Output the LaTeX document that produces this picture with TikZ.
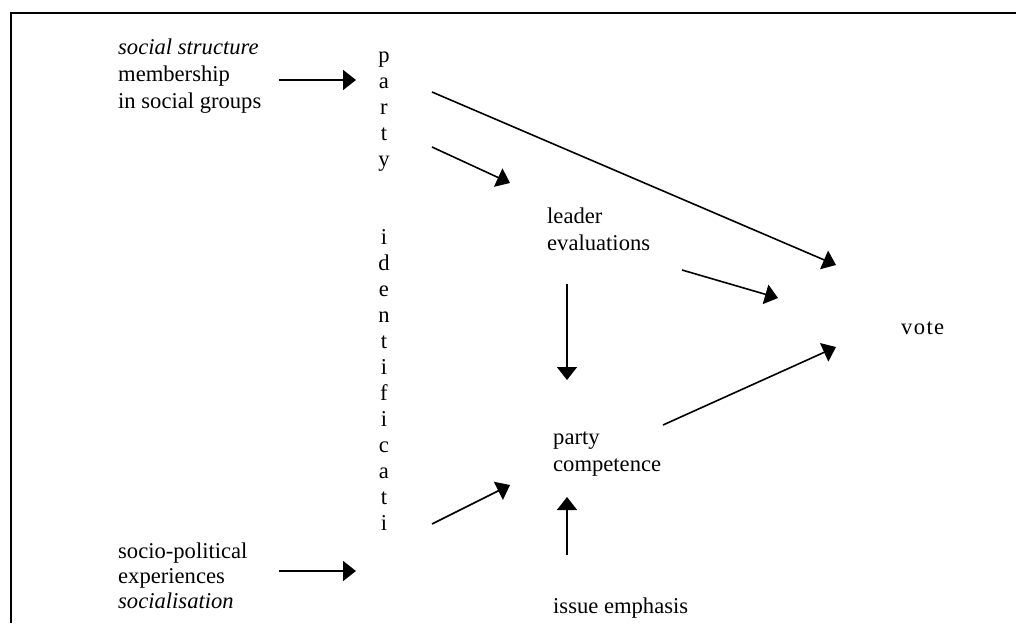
\documentclass[tikz,border=0pt]{standalone}
\usepackage{fontspec}
\setmainfont{Liberation Serif}
\usetikzlibrary{arrows.meta}
\tikzset{
  lbl/.style={inner sep=0pt, anchor=west, align=left, font=\fontsize{22.6}{27}\selectfont},
  lblb/.style={lbl, font=\fontsize{22.6}{25}\selectfont},
  vert/.style={inner sep=0pt, align=center, font=\fontsize{22.6}{26}\selectfont},
  arr/.style={line width=1.6pt, -{Triangle[length=13pt,width=20pt]}},
  frame/.style={line width=2pt}
}
\begin{document}
\begin{tikzpicture}[x=1pt,y=-1pt]
\useasboundingbox (0,0) rectangle (1016,623);
\draw[frame] (10.5,623) -- (10.5,13) -- (1016,13);

\node[lbl] (soc) at (118,76) {\textit{social structure}\\membership\\in social groups};
\node[lblb] (socio) at (118,576) {socio-political\\experiences\\\textit{socialisation}};
\node[vert] (pid) at (384,291) {p\\a\\r\\t\\y\\[52pt]i\\d\\e\\n\\t\\i\\f\\i\\c\\a\\t\\i};
\node[lbl] (leader) at (547,229) {leader\\evaluations};
\node[lbl] (comp) at (553,454) {party\\competence};
\node[lbl] (issue) at (553,608) {issue emphasis};
\node[lbl, font=\fontsize{22.6}{27}\selectfont\addfontfeature{LetterSpace=6}] (vote) at (901,328) {vote};

\coordinate (s1) at (279,80);   \coordinate (e1) at (356,80);
\coordinate (s2) at (279,571);  \coordinate (e2) at (356,571);
\coordinate (s3) at (432,92);   \coordinate (e3) at (836,265);
\coordinate (s4) at (432,147);  \coordinate (e4) at (510,183);
\coordinate (s5) at (682,270);  \coordinate (e5) at (778,298);
\coordinate (s6) at (567,284);  \coordinate (e6) at (567,380);
\coordinate (s7) at (663,425);  \coordinate (e7) at (836,347);
\coordinate (s8) at (432,524);  \coordinate (e8) at (510,485);
\coordinate (s9) at (567,555);  \coordinate (e9) at (567,497);

\draw[arr] (s1) -- (e1);
\draw[arr] (s2) -- (e2);
\draw[arr] (s3) -- (e3);
\draw[arr] (s4) -- (e4);
\draw[arr] (s5) -- (e5);
\draw[arr] (s6) -- (e6);
\draw[arr] (s7) -- (e7);
\draw[arr] (s8) -- (e8);
\draw[arr] (s9) -- (e9);
\end{tikzpicture}
\end{document}
